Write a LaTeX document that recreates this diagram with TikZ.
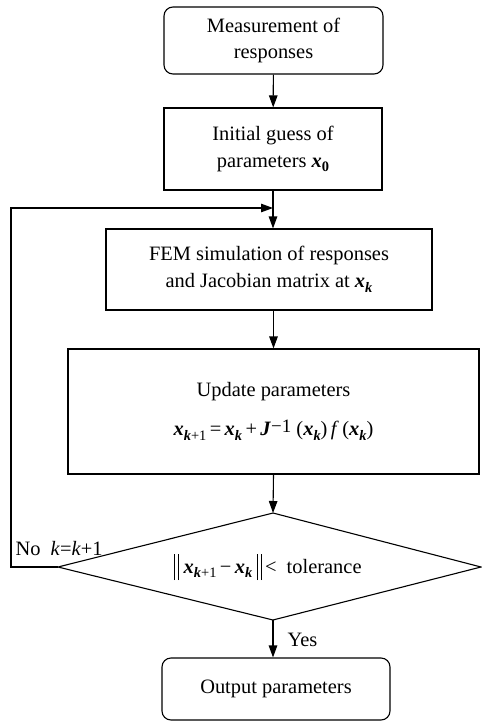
\documentclass[tikz,border=0pt]{standalone}
\usepackage{fontspec}
\setmainfont{Liberation Serif}
\usetikzlibrary{arrows.meta}
\newcommand{\bx}{\textbf{\textit{x}}}
\newcommand{\sbx}[1]{\raisebox{-4.5bp}{\fontsize{14.5}{14.5}\selectfont #1}}
\newcommand{\bk}{\sbx{\textbf{\textit{k}}}}
\newcommand{\bkk}{\sbx{\textbf{\textit{k}}+1}}
\newcommand{\dbar}{\rule[-7bp]{0.9bp}{26bp}\hspace{2.4bp}\rule[-7bp]{0.9bp}{26bp}}
\begin{document}
\begin{tikzpicture}[x=1bp,y=-1bp, line width=1.1bp,
  txt/.style={font=\fontsize{20.5}{27}\selectfont, inner sep=0pt},
  box/.style={txt, draw, align=center},
  rbox/.style={box, rounded corners=9bp},
  arr/.style={-{Triangle[length=12bp,width=8.5bp]}}]
\useasboundingbox (0,0) rectangle (482,722);
\node[rbox, minimum width=219bp, minimum height=67bp] (meas) at (273.5,40.5) {Measurement of\\responses};
\node[box, minimum width=218bp, minimum height=82bp] (init) at (273,149) {Initial guess of\\parameters \bx\sbx{\textbf{0}}};
\node[box, minimum width=326bp, minimum height=81bp] (fem) at (269,269.5) {FEM simulation of responses\\and Jacobian matrix at \bx\bk};
\node[box, minimum width=411bp, minimum height=125bp] (upd) at (273.5,411.5) {Update parameters\\[12bp]\bx\bkk\,=\,\bx\bk\,+\,\textbf{\textit{J}}{\fontsize{19}{19}\selectfont\raisebox{3bp}{−1}}\ (\bx\bk)\,\textit{f}\,(\bx\bk)};
\coordinate (dtop) at (273,513);
\coordinate (dleft) at (58,567);
\coordinate (dright) at (481,567);
\coordinate (dbot) at (273,620);
\draw (dtop) -- (dright) -- (dbot) -- (dleft) -- cycle;
\node[txt] (dtext) at (268,567) {\dbar\ \bx\bkk\,−\,\bx\bk\ \dbar\,<\ \ tolerance};
\node[rbox, minimum width=228bp, minimum height=62bp] (out) at (276,689) {Output parameters};
\node[txt, anchor=base west] (nolab) at (15,555) {No\ \ \textit{k}=\textit{k}+1};
\node[txt, anchor=base west] (yeslab) at (287,646) {Yes};
\coordinate (loopc) at (11,208);
\coordinate (merge) at (273,208);
\draw[arr] (meas) -- (init);
\draw[arr] (init.south) -- (init.south |- fem.north);
\draw[arr] (upd.north |- fem.south) -- (upd.north);
\draw[arr] (upd.south) -- (dtop);
\draw[arr] (dbot) -- (dbot |- out.north);
\draw[arr] (dleft) -| (loopc) -- (merge);
\end{tikzpicture}
\end{document}
